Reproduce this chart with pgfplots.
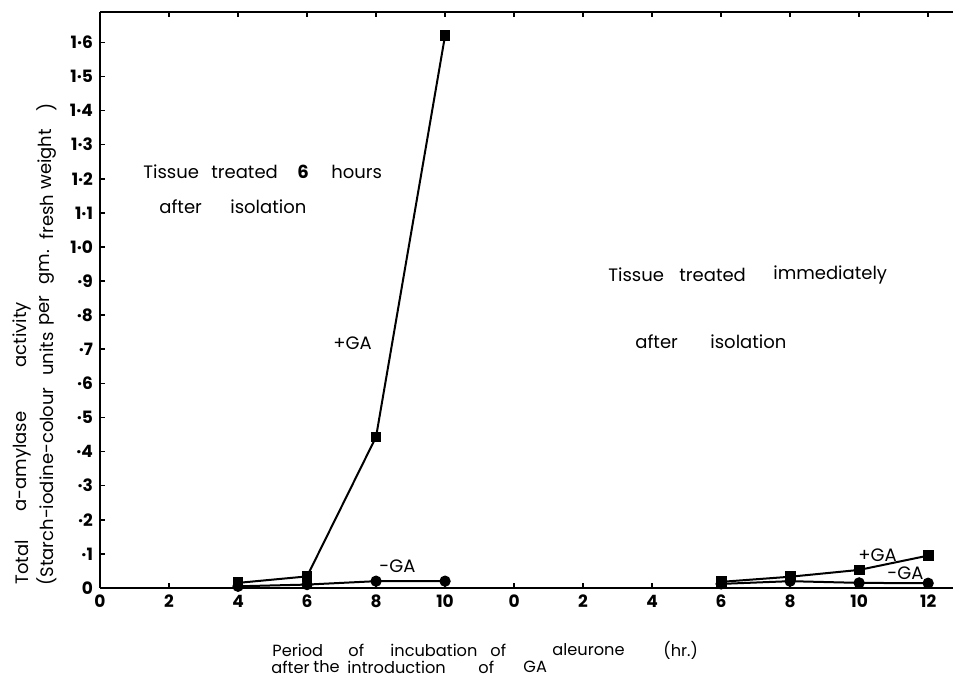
\documentclass[border=0pt]{standalone}
\usepackage{pgfplots}
\pgfplotsset{compat=1.18}
\usepackage{pgfplotstable}
\usepackage{fontspec}
\setmainfont{Poppins}
\newcommand{\fs}{\fontsize{9}{11}\selectfont}
\newcommand{\fx}{\fontsize{8.1}{10}\selectfont}

% left panel: tissue treated 6 h after isolation
\pgfplotstableread{
x y
4 0.015
6 0.034
8 0.443
10 1.620
}\plusleft
\pgfplotstableread{
x y
4 0.005
6 0.010
8 0.020
10 0.020
}\minusleft
% right panel: treated immediately (hours 6..12 drawn at 18..24)
\pgfplotstableread{
x y
18 0.018
20 0.033
22 0.053
24 0.095
}\plusright
\pgfplotstableread{
x y
18 0.012
20 0.020
22 0.015
24 0.014
}\minusright

\begin{document}
\begin{tikzpicture}
\useasboundingbox (-50pt,-45pt) rectangle (426.5pt,294pt);
\begin{axis}[
  scale only axis, width=426.5pt, height=288pt,
  xmin=0, xmax=24.72, ymin=0, ymax=1.689,
  axis x line=box, axis y line=left,
  axis line style={-, line width=1pt},
  clip=false,
  xtick={0,2,4,6,8,10,12,14,16,18,20,22,24},
  xticklabels={0,2,4,6,8,10,0,2,4,6,8,10,12},
  ytick={0,0.1,0.2,0.3,0.4,0.5,0.6,0.7,0.8,0.9,1.0,1.1,1.2,1.3,1.4,1.5,1.6},
  yticklabels={0,·1,·2,·3,·4,·5,·6,·7,·8,·9,1·0,1·1,1·2,1·3,1·4,1·5,1·6},
  tick align=inside, major tick length=2.5pt,
  tick style={black, line width=0.8pt},
  ticklabel style={font=\bfseries\fontsize{8.5}{10}\selectfont},
]
\addplot[black, line width=1pt, mark=square*, mark size=2.2pt] table {\plusleft};
\addplot[black, line width=1pt, mark=*, mark size=2.3pt] table {\minusleft};
\addplot[black, line width=1pt, mark=square*, mark size=2.2pt] table {\plusright};
\addplot[black, line width=1pt, mark=*, mark size=2.3pt] table {\minusright};
\end{axis}

\begin{scope}[shift={(-50pt,294pt)}, x=0.5pt, y=-0.5pt,
  every node/.style={font=\fs, inner sep=0pt, anchor=west}]
% panel notes
\node at (143,172) {Tissue};
\node at (211,172) {treated};
\node at (297,172) {\textbf{6}};
\node at (331,172) {hours};
\node at (159,207) {after};
\node at (230,207) {isolation};
\node at (608,275) {Tissue};
\node at (679,275) {treated};
\node at (773,275) {immediately};
\node at (635,342) {after};
\node at (710,342) {isolation};
% series labels
\node at (333,343) {+GA};
\node at (379,566) {-GA};
\node at (858,555) {+GA};
\node at (887,573) {-GA};
% x label
\begin{scope}[every node/.append style={font=\fx}]
\node at (272,650) {Period};
\node at (348,650) {of};
\node at (390,650) {incubation};
\node at (490,650) {of};
\node at (552,650) {aleurone};
\node at (663,650) {(hr.)};
\node at (271,667) {after};
\node at (313,667) {the};
\node at (347,667) {introduction};
\node at (478,667) {of};
\node at (523,667) {GA};
\end{scope}
% y label
\begin{scope}[every node/.append style={rotate=90}]
\node at (22,585) {Total};
\node at (22,512) {a-amylase};
\node at (22,368) {activity};
\node at (47,586) {(Starch-iodine-colour};
\node at (47,376) {units};
\node at (47,326) {per};
\node at (47,285) {gm.};
\node at (47,240) {fresh};
\node at (47,190) {weight};
\node at (47,112) {)};
\end{scope}
\end{scope}
\end{tikzpicture}
\end{document}
